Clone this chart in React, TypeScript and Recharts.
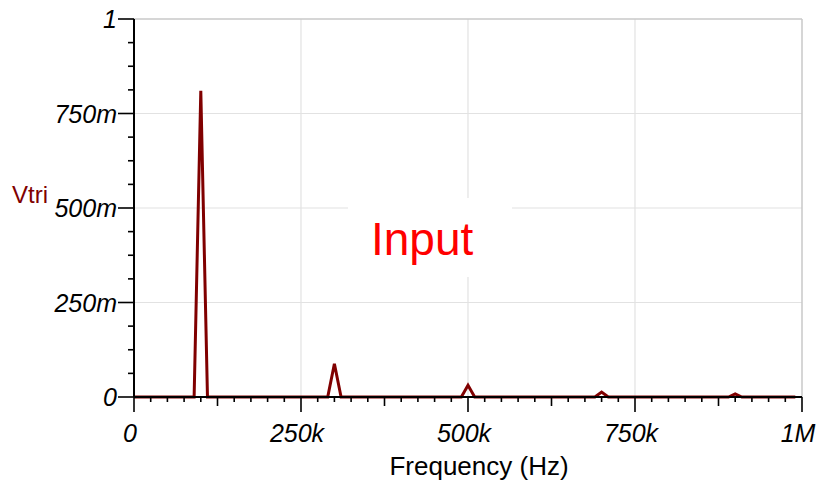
import { LineChart, Line, XAxis, YAxis, ReferenceLine } from "recharts";

// spectrum sampled every 10 kHz, 0 .. 990 kHz
const FREQ_STEP_HZ = 10000;
const vtri = [
  0, 0, 0, 0, 0, 0, 0, 0, 0, 0,
  0.81, 0, 0, 0, 0, 0, 0, 0, 0, 0,
  0, 0, 0, 0, 0, 0, 0, 0, 0, 0,
  0.088, 0, 0, 0, 0, 0, 0, 0, 0, 0,
  0, 0, 0, 0, 0, 0, 0, 0, 0, 0,
  0.031, 0, 0, 0, 0, 0, 0, 0, 0, 0,
  0, 0, 0, 0, 0, 0, 0, 0, 0, 0,
  0.013, 0, 0, 0, 0, 0, 0, 0, 0, 0,
  0, 0, 0, 0, 0, 0, 0, 0, 0, 0,
  0.008, 0, 0, 0, 0, 0, 0, 0, 0, 0,
];

const xMajorTicks = [0, 250000, 500000, 750000, 1000000];
const xMajorLabels = ["0", "250k", "500k", "750k", "1M"];
const yMajorTicks = [0, 0.25, 0.5, 0.75, 1];
const yMajorLabels = ["0", "250m", "500m", "750m", "1"];

const X_MINOR_STEP = 25000;
const Y_MINOR_STEP = 0.0625;

const data = vtri.map((v, i) => ({ f: i * FREQ_STEP_HZ, v }));

const xTicks = Array.from({ length: 41 }, (_, i) => i * X_MINOR_STEP);
const yTicks = Array.from({ length: 17 }, (_, i) => i * Y_MINOR_STEP);

const TRACE = "#800000";
const GRID = "#e2e2e2";
const BORDER = "#c8c8c8";
const FONT = "'Liberation Sans', Arial, sans-serif";

function XTick(props: any) {
  const { x, y, payload } = props;
  const v = payload.value as number;
  const idx = xMajorTicks.indexOf(v);
  const isMajor = idx >= 0;
  const isMid = !isMajor && v % 125000 === 0;
  const len = isMajor ? 15 : isMid ? 9 : 5;
  return (
    <g>
      <line x1={x} x2={x} y1={y} y2={y + len} stroke="#000" strokeWidth={1.6} />
      {isMajor && (
        <text
          x={x - 4}
          y={y + 45}
          textAnchor="middle"
          fontFamily={FONT}
          fontStyle="italic"
          fontSize={25}
          fill="#000"
        >
          {xMajorLabels[idx]}
        </text>
      )}
    </g>
  );
}

function YTick(props: any) {
  const { x, y, payload } = props;
  const v = payload.value as number;
  const idx = yMajorTicks.findIndex((t) => Math.abs(t - v) < 1e-9);
  const isMajor = idx >= 0;
  const len = isMajor ? 16 : 6;
  return (
    <g>
      <line x1={x - len} x2={x} y1={y} y2={y} stroke="#000" strokeWidth={1.6} />
      {isMajor && (
        <text
          x={x - 17}
          y={y + 9}
          textAnchor="end"
          fontFamily={FONT}
          fontStyle="italic"
          fontSize={25}
          fill="#000"
        >
          {yMajorLabels[idx]}
        </text>
      )}
    </g>
  );
}

export default function App() {
  return (
    <div style={{ position: "absolute", left: 0, top: 0, width: 830, height: 483, background: "#fff" }}>
      <LineChart
        width={830}
        height={483}
        data={data}
        margin={{ top: 19, right: 28, left: 0, bottom: 0 }}
      >
        {xMajorTicks.slice(1, -1).map((t) => (
          <ReferenceLine key={"gx" + t} x={t} stroke={GRID} strokeWidth={1.2} />
        ))}
        {yMajorTicks.slice(1, -1).map((t) => (
          <ReferenceLine key={"gy" + t} y={t} stroke={GRID} strokeWidth={1.2} />
        ))}
        <ReferenceLine x={1000000} stroke={BORDER} strokeWidth={1.5} />
        <ReferenceLine y={1} stroke={BORDER} strokeWidth={1.5} />
        <XAxis
          dataKey="f"
          type="number"
          domain={[0, 1000000]}
          ticks={xTicks}
          interval={0}
          height={86}
          tickSize={0}
          tickMargin={0}
          tickLine={false}
          axisLine={{ stroke: "#000", strokeWidth: 2 }}
          tick={<XTick />}
        />
        <YAxis
          type="number"
          domain={[0, 1]}
          ticks={yTicks}
          interval={0}
          width={134}
          tickSize={0}
          tickMargin={0}
          tickLine={false}
          axisLine={{ stroke: "#000", strokeWidth: 2 }}
          tick={<YTick />}
        />
        <Line
          type="linear"
          dataKey="v"
          stroke={TRACE}
          strokeWidth={3}
          dot={false}
          activeDot={false}
          isAnimationActive={false}
        />
      </LineChart>
      <svg
        width={830}
        height={483}
        style={{ position: "absolute", left: 0, top: 0, pointerEvents: "none" }}
      >
        <text x={12} y={203} fontFamily={FONT} fontSize={24} fill={TRACE}>
          Vtri
        </text>
        <text x={479} y={475} textAnchor="middle" fontFamily={FONT} fontSize={26} fill="#000">
          Frequency (Hz)
        </text>
        <rect x={348} y={198} width={164} height={79} fill="#fff" />
        <text x={371} y={255} fontFamily={FONT} fontSize={46} fill="#ff0000">
          Input
        </text>
      </svg>
    </div>
  );
}
